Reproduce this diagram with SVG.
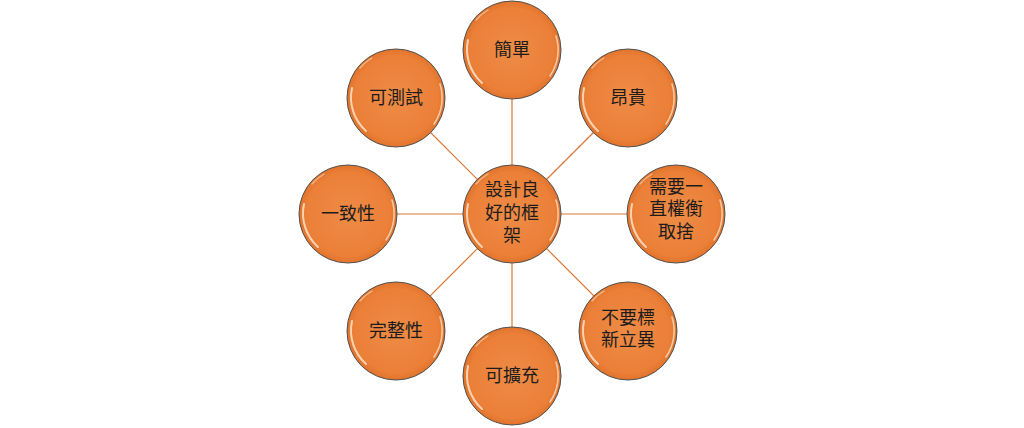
<svg xmlns="http://www.w3.org/2000/svg" width="1024" height="428" viewBox="0 0 1024 428">
  <defs>
    <radialGradient id="fill" cx="0.5" cy="0.5" r="0.5">
      <stop offset="0" stop-color="#EE8B46"/>
      <stop offset="0.85" stop-color="#EB8038"/>
      <stop offset="1" stop-color="#E2742C"/>
    </radialGradient>
    <g id="ball">
      <circle r="49" fill="url(#fill)" stroke="#505050" stroke-width="1"/>
      <path d="M -44 -10 A 45 45 0 0 0 -30 33" fill="none" stroke="#FFE2C8" stroke-width="2" stroke-linecap="round" opacity="0.85"/>
      <path d="M 44 -14 A 46 46 0 0 1 38 26" fill="none" stroke="#FFE2C8" stroke-width="1.6" stroke-linecap="round" opacity="0.75"/>
      <path d="M -36 -30 A 47 47 0 0 1 -24 -40" fill="none" stroke="#FFE2C8" stroke-width="1.4" stroke-linecap="round" opacity="0.6"/>
    </g>
  </defs>
  <style>
    .lbl { font-family: "Liberation Serif", "Noto Sans CJK TC", serif; font-size: 18px; fill: #1C1C1C; text-anchor: middle; }
    .conn { stroke: #D9783A; stroke-width: 1.2; fill: none; }
  </style>
  <rect width="1024" height="428" fill="#FFFFFF"/>
  <g id="connectors">
    <line class="conn" x1="512" y1="214" x2="512" y2="50"/>
    <line class="conn" x1="512" y1="214" x2="628" y2="98"/>
    <line class="conn" x1="512" y1="214" x2="676" y2="214"/>
    <line class="conn" x1="512" y1="214" x2="628" y2="330"/>
    <line class="conn" x1="512" y1="214" x2="512" y2="377"/>
    <line class="conn" x1="512" y1="214" x2="396" y2="330"/>
    <line class="conn" x1="512" y1="214" x2="348" y2="214"/>
    <line class="conn" x1="512" y1="214" x2="396" y2="98"/>
  </g>
  <g id="center">
    <use href="#ball" x="512" y="214"/>
    <text class="lbl" x="512" y="196">設計良</text>
    <text class="lbl" x="512" y="219">好的框</text>
    <text class="lbl" x="512" y="242">架</text>
  </g>
  <g id="n-simple">
    <use href="#ball" x="512" y="50"/>
    <text class="lbl" x="512" y="56">簡單</text>
  </g>
  <g id="n-expensive">
    <use href="#ball" x="628" y="98"/>
    <text class="lbl" x="628" y="104">昂貴</text>
  </g>
  <g id="n-tradeoff">
    <use href="#ball" x="676" y="214"/>
    <text class="lbl" x="676" y="193">需要一</text>
    <text class="lbl" x="676" y="215">直權衡</text>
    <text class="lbl" x="676" y="238">取捨</text>
  </g>
  <g id="n-nonovel">
    <use href="#ball" x="628" y="331"/>
    <text class="lbl" x="628" y="324">不要標</text>
    <text class="lbl" x="628" y="346">新立異</text>
  </g>
  <g id="n-extensible">
    <use href="#ball" x="512" y="376"/>
    <text class="lbl" x="512" y="382">可擴充</text>
  </g>
  <g id="n-complete">
    <use href="#ball" x="396" y="331"/>
    <text class="lbl" x="396" y="337">完整性</text>
  </g>
  <g id="n-consistent">
    <use href="#ball" x="348" y="214"/>
    <text class="lbl" x="348" y="220">一致性</text>
  </g>
  <g id="n-testable">
    <use href="#ball" x="396" y="98"/>
    <text class="lbl" x="396" y="104">可測試</text>
  </g>
</svg>
